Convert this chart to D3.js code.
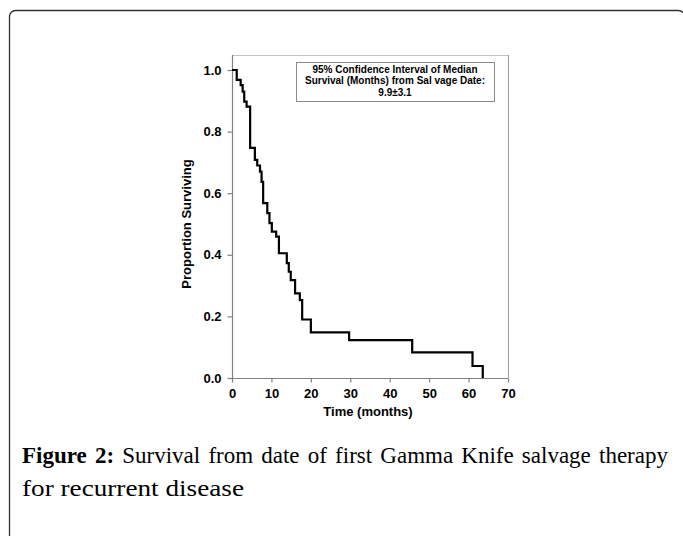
<!DOCTYPE html>
<html>
<head>
<meta charset="utf-8">
<script src="https://cdn.jsdelivr.net/npm/d3@7"></script>
<style>
  html, body { margin: 0; padding: 0; background: #fff; }
  svg { display: block; }
</style>
</head>
<body>
<svg id="chart" width="683" height="536"></svg>
<script>
// Kaplan-Meier step data (time in months, proportion surviving after the step)
const stepTimes = [0, 1.2, 2.2, 2.7, 3.1, 3.7, 4.6, 5.8, 6.4, 7.1, 7.5, 7.9, 8.95, 9.5, 10.1, 11.2, 11.9, 13.9, 14.4, 14.9, 16.0, 17.2, 17.8, 20.0, 29.7, 45.7, 61.0, 63.6];
const stepSurvival = [1.0, 0.968, 0.951, 0.93, 0.897, 0.881, 0.747, 0.708, 0.69, 0.67, 0.637, 0.568, 0.535, 0.503, 0.475, 0.459, 0.405, 0.373, 0.345, 0.318, 0.275, 0.253, 0.19, 0.148, 0.123, 0.083, 0.039, 0.0];
const xTicks = [0, 10, 20, 30, 40, 50, 60, 70];
const yTicks = [0.0, 0.2, 0.4, 0.6, 0.8, 1.0];
const xTitle = "Time (months)";
const yTitle = "Proportion Surviving";
const legendLines = ["95% Confidence Interval of Median", "Survival (Months) from Sal vage Date:", "9.9\u00B13.1"];
const captionBold = "Figure 2:";
const captionLine1 = " Survival from date of first Gamma Knife salvage therapy";
const captionLine2 = "for recurrent disease";

const svg = d3.select("#chart");

// outer frame
svg.append("rect")
  .attr("x", 9.5).attr("y", 10.5)
  .attr("width", 675).attr("height", 600)
  .attr("rx", 6).attr("ry", 6)
  .attr("fill", "none").attr("stroke", "#333").attr("stroke-width", 1.3);

const x = d3.scaleLinear().domain([0, 70]).range([232, 508]);
const y = d3.scaleLinear().domain([0, 1]).range([378, 70]);
const plotTop = 55;

// plot border (top & right)
svg.append("line").attr("x1", x(0)).attr("x2", x(70)).attr("y1", plotTop + 0.5).attr("y2", plotTop + 0.5)
  .attr("stroke", "#c4c4c4").attr("stroke-width", 1.2);
svg.append("line").attr("x1", x(70) + 0.5).attr("x2", x(70) + 0.5).attr("y1", plotTop).attr("y2", y(0))
  .attr("stroke", "#9a9a9a").attr("stroke-width", 1);

// axes
const xAxis = d3.axisBottom(x).tickValues(xTicks).tickFormat(d3.format("d")).tickSize(4).tickPadding(6);
const yAxis = d3.axisLeft(y).tickValues(yTicks).tickFormat(d3.format(".1f")).tickSize(5).tickPadding(6);

const gx = svg.append("g").attr("transform", `translate(0,${y(0) + 0.5})`).call(xAxis);
const gy = svg.append("g").attr("transform", `translate(${x(0) + 0.5},0)`).call(yAxis);
gy.select(".domain").attr("d", `M0,${y(0)}V${plotTop}`);
gx.select(".domain").attr("d", `M${x(0)},0H${x(70)}`);
[gx, gy].forEach(g => {
  g.select(".domain").attr("stroke", "#808080").attr("stroke-width", 1.2);
  g.selectAll(".tick line").attr("stroke", "#808080").attr("stroke-width", 1.2);
  g.selectAll(".tick text").attr("fill", "#000")
    .style("font-family", "'Liberation Sans', Arial, sans-serif")
    .style("font-weight", "bold").style("font-size", "13px");
});

// survival step curve
const pts = stepTimes.map((t, i) => [t, stepSurvival[i]]);
const line = d3.line().x(d => x(d[0])).y(d => y(d[1])).curve(d3.curveStepAfter);
svg.append("path").datum(pts)
  .attr("d", line)
  .attr("fill", "none").attr("stroke", "#000").attr("stroke-width", 2.2)
  .attr("stroke-linejoin", "miter");

// axis titles
svg.append("text").attr("x", 368).attr("y", 416).attr("text-anchor", "middle")
  .style("font-family", "'Liberation Sans', Arial, sans-serif").style("font-weight", "bold").style("font-size", "13px")
  .text(xTitle);
svg.append("text").attr("transform", "translate(191,224) rotate(-90)").attr("text-anchor", "middle")
  .style("font-family", "'Liberation Sans', Arial, sans-serif").style("font-weight", "bold").style("font-size", "13px")
  .text(yTitle);

// legend box
svg.append("rect").attr("x", 296.5).attr("y", 62.5).attr("width", 198).attr("height", 39)
  .attr("fill", "#fff").attr("stroke", "#8a8a8a").attr("stroke-width", 1);
svg.append("g").selectAll("text").data(legendLines).join("text")
  .attr("x", 395).attr("y", (d, i) => 72.5 + i * 11.8).attr("text-anchor", "middle")
  .style("font-family", "'Liberation Sans', Arial, sans-serif").style("font-weight", "bold").style("font-size", "10px")
  .text(d => d);

// caption
const capFont = "'Liberation Serif', 'Times New Roman', serif";
const cap = svg.append("text").attr("x", 22).attr("y", 463)
  .style("font-family", capFont).style("font-size", "23px").attr("fill", "#000");
cap.append("tspan").style("font-weight", "bold").text(captionBold);
cap.append("tspan").text(captionLine1);
const natural = cap.node().getComputedTextLength();
const gaps = (captionBold + captionLine1).split(" ").length - 1;
cap.style("word-spacing", ((668 - 22 - natural) / gaps) + "px");
const cap2 = svg.append("text").attr("x", 22).attr("y", 496)
  .style("font-family", capFont).style("font-size", "23px").attr("fill", "#000")
  .text(captionLine2);
const nat2 = cap2.node().getComputedTextLength();
cap2.attr("textLength", Math.max(nat2, 222)).attr("lengthAdjust", "spacingAndGlyphs");
</script>
</body>
</html>
